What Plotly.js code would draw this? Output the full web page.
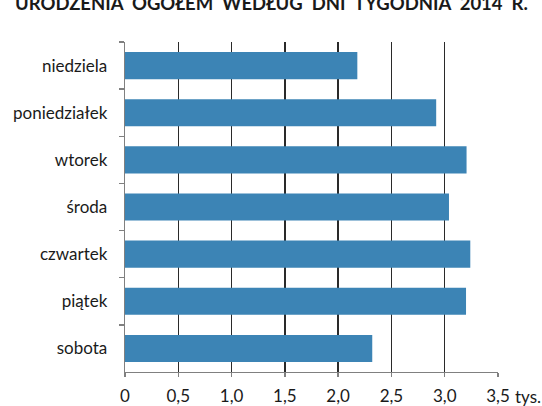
<!DOCTYPE html>
<html><head><meta charset="utf-8">
<script src="https://cdn.plot.ly/plotly-3.0.1.min.js"></script>
<style>body{margin:0;padding:0;background:#fff}#c{width:542px;height:406px}</style>
</head><body><div id="c"></div>
<script>
const days = ["niedziela","poniedziałek","wtorek","środa","czwartek","piątek","sobota"];
const births = [2.18, 2.92, 3.205, 3.04, 3.24, 3.20, 2.32];
const tickVals = [0, 0.5, 1.0, 1.5, 2.0, 2.5, 3.0, 3.5];
const tickText = ["0","0,5","1,0","1,5","2,0","2,5","3,0","3,5"];
const unitLabel = "tys.";
const titleText = "URODZENIA\u00a0\u00a0OGÓŁEM\u00a0\u00a0WEDŁUG\u00a0\u00a0DNI\u00a0\u00a0TYGODNIA\u00a0\u00a02014\u00a0\u00a0R.";

const font = "Lato, 'Open Sans', sans-serif";
Plotly.newPlot('c', [{
  type: 'bar', orientation: 'h',
  y: days, x: births,
  marker: {color: '#3c84b5', line: {width: 0}},
  hoverinfo: 'none'
}], {
  width: 542, height: 406,
  margin: {l: 125, r: 44, t: 42, b: 34, pad: 0},
  paper_bgcolor: '#fff', plot_bgcolor: '#fff',
  bargap: 0.425,
  showlegend: false,
  separators: ', ',
  font: {family: font, size: 17, color: '#1a1a1a'},
  xaxis: {
    range: [0, 3.5], tickmode: 'array', tickvals: tickVals, ticktext: tickText,
    showgrid: true, gridcolor: '#2a2a2a', gridwidth: 1.3,
    showline: true, linecolor: '#808080', linewidth: 1.3,
    ticks: 'outside', ticklen: 4, tickcolor: '#808080', tickwidth: 1.3,
    ticklabelstandoff: 4, zeroline: false,
    tickfont: {family: font, size: 17, color: '#1a1a1a'}
  },
  yaxis: {
    autorange: 'reversed', type: 'category',
    showline: true, linecolor: '#808080', linewidth: 1.3,
    ticks: 'outside', ticklen: 5, tickcolor: '#808080', tickwidth: 1.3,
    tickson: 'boundaries', showgrid: false,
    ticklabelstandoff: 13,
    tickfont: {family: font, size: 17, color: '#1a1a1a'}
  },
  annotations: [
    {text: unitLabel, xref: 'paper', yref: 'paper', x: 1, y: 0, xanchor: 'left', yanchor: 'top',
     xshift: 15, yshift: -12, showarrow: false, font: {family: font, size: 17, color: '#1a1a1a'}},
    {text: '<b>' + titleText + '</b>', xref: 'paper', yref: 'paper', x: 0.5, y: 1, xanchor: 'center', yanchor: 'middle',
     xshift: -40, yshift: 39, showarrow: false, font: {family: font, size: 18.5, color: '#1a1a1a'}}
  ]
}, {staticPlot: true});
</script></body></html>
